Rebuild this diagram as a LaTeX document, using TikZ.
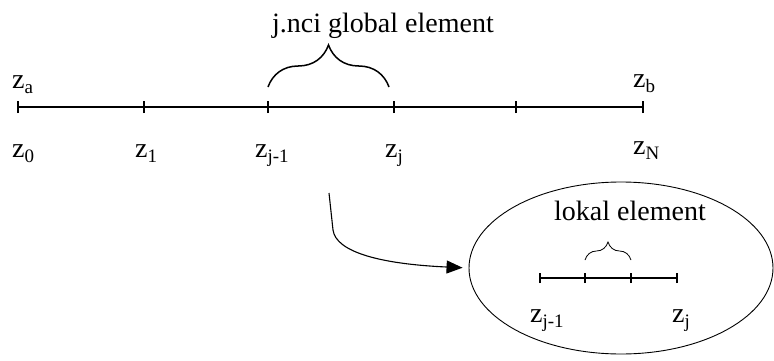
\documentclass[tikz,border=0pt]{standalone}
\usepackage{fontspec}
\setmainfont{Liberation Serif}
\usetikzlibrary{arrows.meta,decorations.pathreplacing,shapes.geometric}
\newcommand{\zlab}[1]{z\raisebox{-5pt}{\fontsize{19}{19}\selectfont #1}}

\begin{document}
\begin{tikzpicture}[x=1pt,y=1pt,font=\fontsize{28}{32}\selectfont,
  zlabel/.style={anchor=base west,inner sep=0pt},
  tickmark/.style={line width=1.4pt},
  brace/.style={decorate,decoration={brace,amplitude=#1}}]
  \useasboundingbox (0,0) rectangle (774,360);
  % global mesh
  \foreach \x [count=\i from 0] in {18,144,268,394,516,643} {
    \coordinate (g\i) at (\x,253);
    \draw[tickmark] ([yshift=-6]g\i) -- ([yshift=6]g\i);
  }
  \draw[line width=1.6pt] (g0) -- (g5);
  \draw[brace=42pt,line width=1.5pt] (268,273) -- (389,273);
  \node (global) [anchor=base] at (383,328) {j.nci global element};
  \node (za) [zlabel] at (12,272) {\zlab{a}};
  \node (zb) [zlabel] at (633,273) {\zlab{b}};
  \node (z0) [zlabel] at (12,203) {\zlab{0}};
  \node (z1) [zlabel] at (135,203) {\zlab{1}};
  \node (zjm) [zlabel] at (255,203) {\zlab{j-1}};
  \node (zj) [zlabel] at (385,203) {\zlab{j}};
  \node (zN) [zlabel] at (633,206) {\zlab{N}};
  % local element
  \node (lokal) [draw,ellipse,minimum width=304pt,minimum height=172pt,line width=0.9pt] at (621,92) {};
  \foreach \x [count=\i from 0] in {540,585,631,677} {
    \coordinate (l\i) at (\x,82);
    \draw[line width=1.1pt] ([yshift=-5]l\i) -- ([yshift=5]l\i);
  }
  \draw[line width=1.3pt] (l0) -- (l3);
  \draw[brace=18pt,line width=0.8pt] (585,100) -- (631,100);
  \node (lokaltext) [anchor=base] at (630,140) {lokal element};
  \node (lzjm) [zlabel] at (530,38) {\zlab{j-1}};
  \node (lzj) [zlabel] at (672,38) {\zlab{j}};
  % arrow
  \coordinate (from) at (329,167);
  \coordinate (bend) at (333,130);
  \draw[line width=1.1pt,-{Triangle[length=16pt,width=13pt]},shorten >=6pt]
    (from) -- (bend) .. controls (336,108) and (380,96) .. (lokal.west);
\end{tikzpicture}
\end{document}
